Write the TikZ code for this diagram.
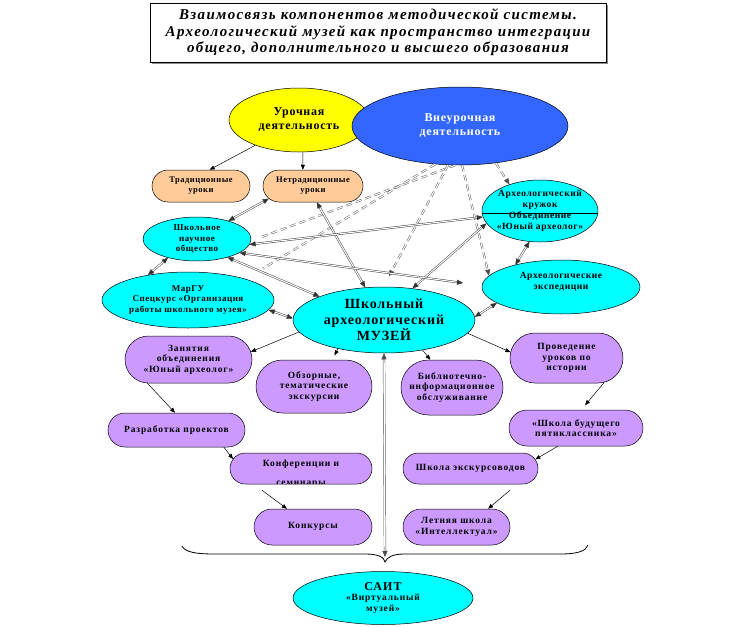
\documentclass[tikz,border=0pt]{standalone}
\usepackage{fontspec}
\setmainfont{Liberation Serif}
\newfontfamily\spacedf{Liberation Serif}[LetterSpace=6]
\newfontfamily\widef{Liberation Serif}[LetterSpace=9]
\usetikzlibrary{shapes.geometric,shapes.misc,arrows.meta,calc}
\definecolor{cyanf}{HTML}{00FFFF}
\definecolor{yelf}{HTML}{FFFF00}
\definecolor{bluef}{HTML}{3366FF}
\definecolor{peachf}{HTML}{FFCC99}
\definecolor{purpf}{HTML}{CC99FF}
\newcommand\myfS{\spacedf\bfseries\fontsize{8.5}{10}\selectfont}
\newcommand\myfP{\widef\bfseries\fontsize{9.5}{10.5}\selectfont}
\newcommand\myfM{\spacedf\bfseries\fontsize{9}{10.5}\selectfont}
\newcommand\myfMM{\spacedf\bfseries\fontsize{9.5}{11}\selectfont}
\newcommand\myfL{\spacedf\bfseries\fontsize{12}{14}\selectfont}
\newcommand\myfXL{\spacedf\bfseries\fontsize{14}{16}\selectfont}
\newcommand\myfT{\widef\bfseries\itshape\fontsize{15}{16.5}\selectfont}
\begin{document}
\begin{tikzpicture}[x=1pt,y=-1pt,
  ell/.style={ellipse, draw, line width=0.5pt, inner sep=0pt, align=center},
  pill/.style={rounded rectangle, draw, line width=0.5pt, inner sep=0pt, align=center, fill=purpf, font=\myfP},
  peach/.style={rounded rectangle, draw, line width=0.5pt, inner sep=0pt, align=center, fill=peachf, font=\myfS},
  arr/.style={-{Triangle[length=5pt,width=4pt]}, line width=0.5pt},
  dbl/.style={double=white, double distance=1.1pt, line width=0.45pt, draw=black!80,
     {Triangle[length=6pt,width=5pt]}-{Triangle[length=6pt,width=5pt]}},
  dsh/.style={double=white, double distance=1.1pt, line width=0.45pt, draw=black!70, dash pattern=on 6pt off 4pt},
  dsharr/.style={dsh, -{Triangle[length=6pt,width=5pt]}},
]
\useasboundingbox (0,0) rectangle (740,627);

% title
\fill[black!45] (152,5) rectangle (608,64);
\node[draw, fill=white, line width=0.5pt, minimum width=456pt, minimum height=59pt, inner sep=0pt, align=center, font=\myfT] (title) at (378,32.5)
 {Взаимосвязь компонентов методической системы.\\Археологический музей как пространство интеграции\\общего, дополнительного и высшего образования};

% top ellipses
\node[ell, fill=yelf, minimum width=140pt, minimum height=64pt, font=\myfL] (uro) at (299,120) {Урочная\\деятельность};
\node[ell, fill=bluef, minimum width=216pt, minimum height=78pt, font=\myfL, text=white] (vne) at (460,126) {Внеурочная\\деятельность};

\node[peach, minimum width=98pt, minimum height=32pt] (trad) at (201,186) {Традиционные\\уроки};
\node[peach, minimum width=100pt, minimum height=32pt] (netrad) at (313,186) {Нетрадиционные\\уроки};

% cyan ellipses
\node[ell, fill=cyanf, minimum width=108pt, minimum height=44pt, font=\myfM] (sno) at (197,239) {Школьное\\научное\\общество};
\node[ell, fill=cyanf, minimum width=172pt, minimum height=56pt, font=\myfM] (margu) at (188,300) {МарГУ\\Спецкурс «Организация\\работы школьного музея»};
\node[ell, fill=cyanf, minimum width=116pt, minimum height=62pt] (club) at (540,211) {};
\draw[line width=0.5pt] ([yshift=-2pt]club.west) -- ([yshift=-2pt]club.east);
\node[align=center, font=\myfMM] (clubt) at (540,200) {Археологический\\кружок};
\node[align=center, font=\myfMM] (clubb) at (540,222) {Объединение\\«Юный археолог»};
\node[ell, fill=cyanf, minimum width=158pt, minimum height=54pt] (exp) at (561,287) {};
\node[align=center, font=\myfMM] (expt) at (561,282) {Археологические\\экспедиции};
\node[ell, fill=cyanf, minimum width=182pt, minimum height=66pt, font=\myfXL] (mus) at (384,320) {Школьный\\археологический\\МУЗЕЙ};

% purple boxes
\node[pill, minimum width=127pt, minimum height=47pt] (zan) at (188.5,359.5) {Занятия\\объединения\\«Юный археолог»};
\node[pill, minimum width=116pt, minimum height=53pt] (obz) at (314,386.5) {Обзорные,\\тематические\\экскурсии};
\node[pill, minimum width=102pt, minimum height=55pt] (bib) at (452,387.5) {Библиотечно-\\информационное\\обслуживание};
\node[pill, minimum width=113pt, minimum height=50pt] (prov) at (566.5,358) {Проведение\\уроков по\\истории};
\node[pill, minimum width=137pt, minimum height=34pt] (razr) at (176.5,430) {Разработка проектов};
\node[pill, minimum width=142pt, minimum height=31pt] (conf) at (301,468.5) {};
\begin{scope}
\clip (230,453) rectangle (372,483.5);
\node[font=\myfP] (conft) at (301,464) {Конференции и};
\node[font=\myfP] (confb) at (301,484.5) {семинары};
\end{scope}
\node[pill, minimum width=118pt, minimum height=36pt] (konk) at (313,527) {\raisebox{4pt}{Конкурсы}};
\node[pill, minimum width=134pt, minimum height=36pt] (shb) at (576,428) {«Школа будущего\\пятиклассника»};
\node[pill, minimum width=135pt, minimum height=31pt] (shex) at (470.5,468.5) {\raisebox{3pt}{Школа экскурсоводов}};
\node[pill, minimum width=107pt, minimum height=36pt] (let) at (456.5,527) {Летняя школа\\«Интеллектуал»};

\node[ell, fill=cyanf, minimum width=180pt, minimum height=53pt, font=\myfP] (sait) at (383,598) {{\fontsize{12}{13}\selectfont САИТ}\\«Виртуальный\\музей»};

% single arrows
\draw[arr] (uro.210) -- (trad.62);
\draw[arr] (uro.-83) -- (netrad.122);
\draw[arr] (mus.188) -- (zan.7);
\draw[arr, shorten >=5pt] (mus.212) -- (obz.56);
\draw[arr] (mus.-38) -- (bib.128);
\draw[arr] (mus.-9) -- (prov.174);
\draw[arr] (zan.210) -- (razr.95);
\draw[arr] (razr.-20) -- (conf.172);
\draw[arr] ([xshift=-39pt,yshift=-6pt]conf.south) -- (konk.145);
\draw[arr, shorten >=6pt] (prov.-33) -- (shb.74);
\draw[arr] (shb.-135) -- (shex.8);
\draw[arr] ([xshift=39.5pt,yshift=-6pt]shex.south) -- (let.30);

% dashed double lines from vne
\draw[dsharr] (vne.-46) -- (club.139);
\draw[dsh, shorten >=10pt] (vne.-97) -- (sno.-2);
\draw[dsh, shorten >=20pt] (vne.-123) -- (margu.20);
\draw[dsharr, shorten >=12pt] (vne.-107) -- (mus.91);
\draw[dsharr] (vne.-87) -- (exp.171);

% double arrows
\coordinate (expin) at (463,283);
\draw[dbl] (netrad.196) -- (sno.30);
\draw[dbl] (netrad.-77) -- (mus.120);
\draw[dbl] (sno.213) -- (margu.148);
\draw[dbl] (sno.-31) -- (mus.160);
\draw[dbl] (margu.-7) -- (mus.179);
\draw[dbl] (club.193) -- (mus.48);
\draw[dbl] (club.-109) -- (exp.154);
\draw[dbl] (exp.194) -- (mus.2);
\draw[dbl] (sno.-6) -- (club.186);
\draw[dbl] (sno.-18) -- (expin);

% vertical arrow and brace
\coordinate (vb) at (385,557);
\draw[dbl, draw=black!70, double distance=1.4pt] (mus.south) -- (vb);
\draw[line width=0.8pt] (182,546) .. controls (185,552) and (195,554) .. (215,554) -- (365,554)
  .. controls (378,554) and (384,557) .. (385,562)
  .. controls (387,557) and (393,554) .. (405,554) -- (560,554)
  .. controls (578,554) and (586,551) .. (588,545);
\end{tikzpicture}
\end{document}
